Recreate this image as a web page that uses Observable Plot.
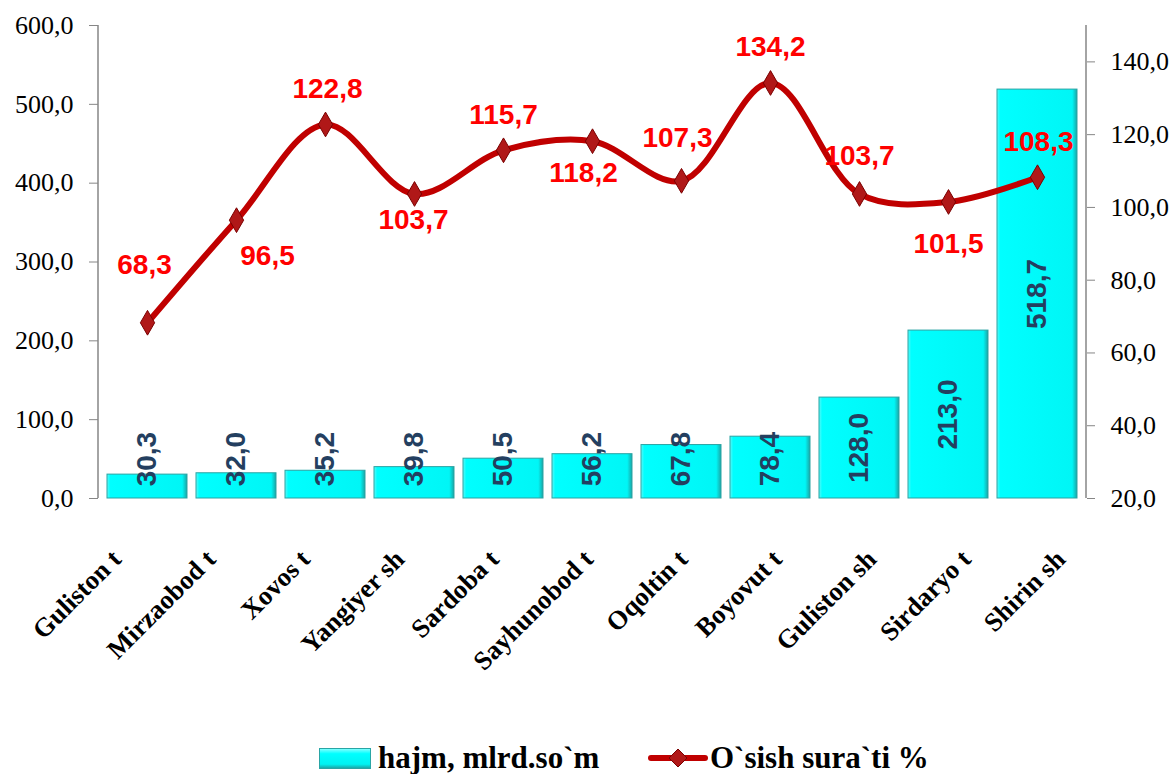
<!DOCTYPE html>
<html>
<head>
<meta charset="utf-8">
<script src="https://cdn.jsdelivr.net/npm/d3@7"></script>
<script src="https://cdn.jsdelivr.net/npm/@observablehq/plot@0.6"></script>
<style>
  html, body { margin: 0; padding: 0; background: #fff; }
  #chart { width: 1173px; }
  #legend { position: relative; height: 54px; font-family: "Liberation Serif", serif; font-weight: bold; font-size: 31px; color: #000; }
  #legend .item { position: absolute; top: 18px; display: flex; align-items: center; height: 40px; }
  #legend .sw-bar { width: 50px; height: 19px; background: linear-gradient(#7fffff, #00ffff 25%, #00f2f2 80%, #19a9a9); border: 1px solid #2aa5a5; margin-right: 7px; }
</style>
</head>
<body>
<div id="chart"></div>
<div id="legend"></div>
<script>
// ---- data ----
const categories = ["Guliston t", "Mirzaobod t", "Xovos t", "Yangiyer sh", "Sardoba t", "Sayhunobod t", "Oqoltin t", "Boyovut t", "Guliston sh", "Sirdaryo t", "Shirin sh"];
const volume = [30.3, 32.0, 35.2, 39.8, 50.5, 56.2, 67.8, 78.4, 128.0, 213.0, 518.7];
const growth = [68.3, 96.5, 122.8, 103.7, 115.7, 118.2, 107.3, 134.2, 103.7, 101.5, 108.3];
const leftTicks = [0, 100, 200, 300, 400, 500, 600];
const rightTicks = [20, 40, 60, 80, 100, 120, 140];
const seriesNames = ["hajm, mlrd.so`m", "O`sish sura`ti %"];

// ---- layout (not data) ----
const W = 1173, H = 720;
const mTop = 25, mBottom = 222, mLeft = 98, mRight = 87;
const leftDomain = [0, 600], rightDomain = [20, 150];
const growthLabelOffset = [[-3, -58], [31, 36], [2, -35], [-1, 26], [0, -35], [-9, 32], [-4, -43], [0, -36], [0, -38], [0, 42], [1, -35]];

const fmt = v => v.toFixed(1).replace(".", ",");
const toLeft = r => (r - rightDomain[0]) / (rightDomain[1] - rightDomain[0]) * (leftDomain[1] - leftDomain[0]) + leftDomain[0];

const idx = categories.map((_, i) => i);
const rows = idx.map(i => ({cat: categories[i], vol: volume[i], g: growth[i], gy: toLeft(growth[i])}));

const serif = "'Liberation Serif', 'Times New Roman', serif";
const sans = "Liberation Sans";
const lineColor = "#C00000";

const marks = [
  Plot.barY(rows, {x: "cat", y: "vol", fill: "url(#barGrad)", stroke: "#2aa3a3", strokeWidth: 1}),
  Plot.text(rows, {
    x: "cat", y: d => Math.max(d.vol / 2, 50), text: d => fmt(d.vol), rotate: -90,
    fill: "#243F60", fontFamily: sans, fontWeight: "bold", fontSize: 28
  }),
  Plot.line(rows, {x: "cat", y: "gy", stroke: lineColor, strokeWidth: 6, curve: "catmull-rom", strokeLinejoin: "round", strokeLinecap: "round"}),
  Plot.dot(rows, {x: "cat", y: "gy", symbol: "diamond", r: 7.5, fill: "#B01818", stroke: "#7A0000", strokeWidth: 1}),
  // tick marks
  Plot.axisY({anchor: "left", ticks: leftTicks, tickFormat: () => "", tickSize: 9, stroke: "#868686", label: null}),
  Plot.axisY({anchor: "right", ticks: rightTicks.map(toLeft), tickFormat: () => "", tickSize: 8, stroke: "#868686", label: null}),
  // tick labels (serif)
  Plot.text(leftTicks, {y: d => d, frameAnchor: "left", dx: -25, textAnchor: "end", text: d => fmt(d), fill: "#000", fontFamily: serif, fontWeight: "normal", fontSize: 26}),
  Plot.text(rightTicks, {y: d => toLeft(d), frameAnchor: "right", dx: 24, textAnchor: "start", text: d => fmt(d), fill: "#000", fontFamily: serif, fontWeight: "normal", fontSize: 26})
];

idx.forEach(i => {
  marks.push(Plot.text([rows[i]], {
    x: "cat", y: "gy", text: d => fmt(d.g), dx: growthLabelOffset[i][0], dy: growthLabelOffset[i][1],
    fill: "#FF0000", fontFamily: sans, fontWeight: "bold", fontSize: 28
  }));
  marks.push(Plot.text([rows[i]], {
    x: "cat", frameAnchor: "bottom", text: "cat", rotate: -45, textAnchor: "end", lineAnchor: "top",
    dx: -38 + 5.4 * i, dy: 49,
    fill: "#000", fontFamily: serif, fontWeight: "bold", fontSize: 26.5
  }));
});

const chart = Plot.plot({
  width: W, height: H,
  marginTop: mTop, marginBottom: mBottom, marginLeft: mLeft, marginRight: mRight,
  style: {fontFamily: serif, background: "#fff", overflow: "visible"},
  x: {domain: categories, paddingInner: 0.1, paddingOuter: 0.05, axis: null},
  y: {domain: leftDomain, axis: null},
  marks
});

// gradient for bevelled cyan bars + axis lines
const svg = d3.select(chart);
const defs = svg.insert("defs", ":first-child");
const gh = defs.append("linearGradient").attr("id", "barGrad").attr("x1", 0).attr("x2", 1).attr("y1", 0).attr("y2", 0);
[["0%", "#5ff7f7"], ["4%", "#00ffff"], ["94%", "#00f6f6"], ["100%", "#1aa5a5"]].forEach(([o, c]) => gh.append("stop").attr("offset", o).attr("stop-color", c));
const yS = chart.scale("y");
[mLeft, W - mRight].forEach(x => {
  svg.append("line").attr("x1", x).attr("x2", x).attr("y1", yS.apply(leftDomain[1])).attr("y2", yS.apply(leftDomain[0]))
    .attr("stroke", "#868686").attr("stroke-width", 1.5);
});
document.getElementById("chart").appendChild(chart);

// legend
const legend = document.getElementById("legend");
const it1 = document.createElement("div");
it1.className = "item"; it1.style.left = "319px";
it1.innerHTML = `<span class="sw-bar"></span><span>${seriesNames[0]}</span>`;
const it2 = document.createElement("div");
it2.className = "item"; it2.style.left = "648px";
it2.innerHTML = `<svg width="60" height="24" style="margin-right:2px"><line x1="3" x2="57" y1="12" y2="12" stroke="${lineColor}" stroke-width="6" stroke-linecap="round"/><path d="M30 3 L39 12 L30 21 L21 12 Z" fill="#B01818" stroke="#7A0000"/></svg><span>${seriesNames[1]}</span>`;
legend.appendChild(it1);
legend.appendChild(it2);
</script>
</body>
</html>
